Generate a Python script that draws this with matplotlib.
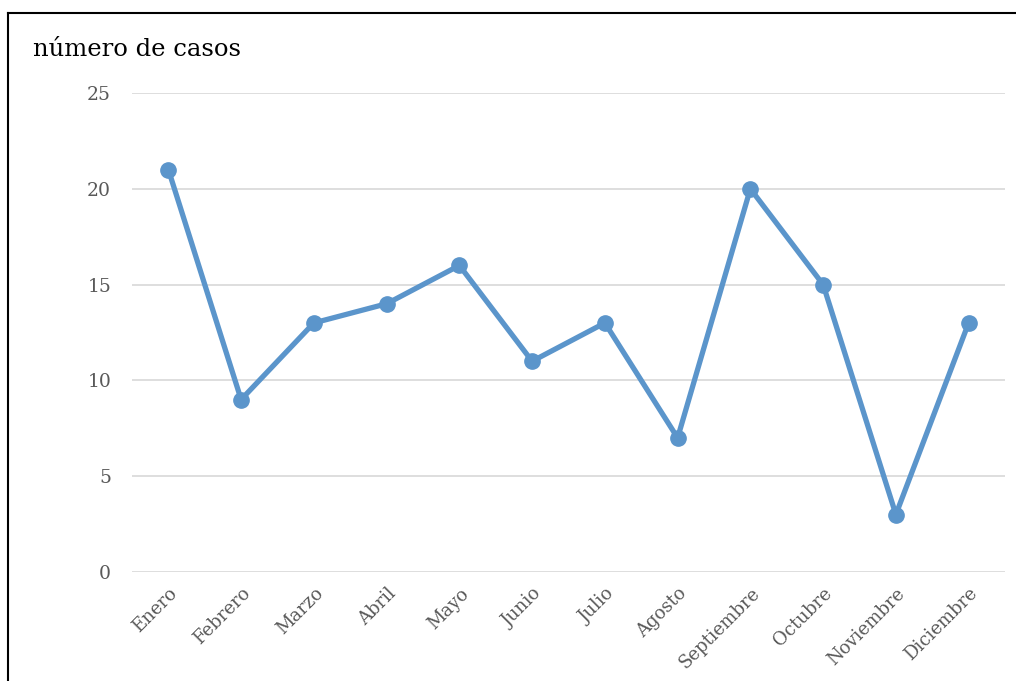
import matplotlib.pyplot as plt
from matplotlib.lines import Line2D

# data
meses = ["Enero", "Febrero", "Marzo", "Abril", "Mayo", "Junio", "Julio",
         "Agosto", "Septiembre", "Octubre", "Noviembre", "Diciembre"]
casos = [21, 9, 13, 14, 16, 11, 13, 7, 20, 15, 3, 13]
y_ticks = [0, 5, 10, 15, 20, 25]

plt.rcParams['font.family'] = ['DejaVu Serif']

fig = plt.figure(figsize=(10.16, 6.81), dpi=100)
ax = fig.add_axes([132 / 1016, 1 - 572 / 681, (1005 - 132) / 1016, (572 - 93) / 681])

x = list(range(len(meses)))
ax.plot(x, casos, color='#5b95cb', linewidth=3.8, marker='o', markersize=11,
        solid_capstyle='round', zorder=3)

ax.set_xlim(-0.5, len(meses) - 0.5)
ax.set_ylim(0, 25)
ax.set_yticks(y_ticks)
ax.set_xticks(x)
ax.set_xticklabels(meses, rotation=45, ha='right', rotation_mode='anchor')
ax.tick_params(axis='both', length=0, labelsize=13, labelcolor='#595959')
ax.tick_params(axis='y', pad=15, labelsize=13.5)
ax.tick_params(axis='x', pad=9)
ax.grid(axis='y', color='#dedede', linewidth=1.4)
ax.set_axisbelow(True)
for s in ax.spines.values():
    s.set_visible(False)

fig.text(33 / 1016, 1 - 50 / 681, "número de casos", fontsize=17.5, va='center',
         ha='left', color='black')

# outer border (left and top visible)
fig.add_artist(Line2D([8 / 1016, 8 / 1016], [0, 1 - 13 / 681], color='black',
                      linewidth=1.5, transform=fig.transFigure))
fig.add_artist(Line2D([8 / 1016, 1], [1 - 13 / 681, 1 - 13 / 681], color='black',
                      linewidth=1.5, transform=fig.transFigure))

fig.savefig('out.png', dpi=100)
